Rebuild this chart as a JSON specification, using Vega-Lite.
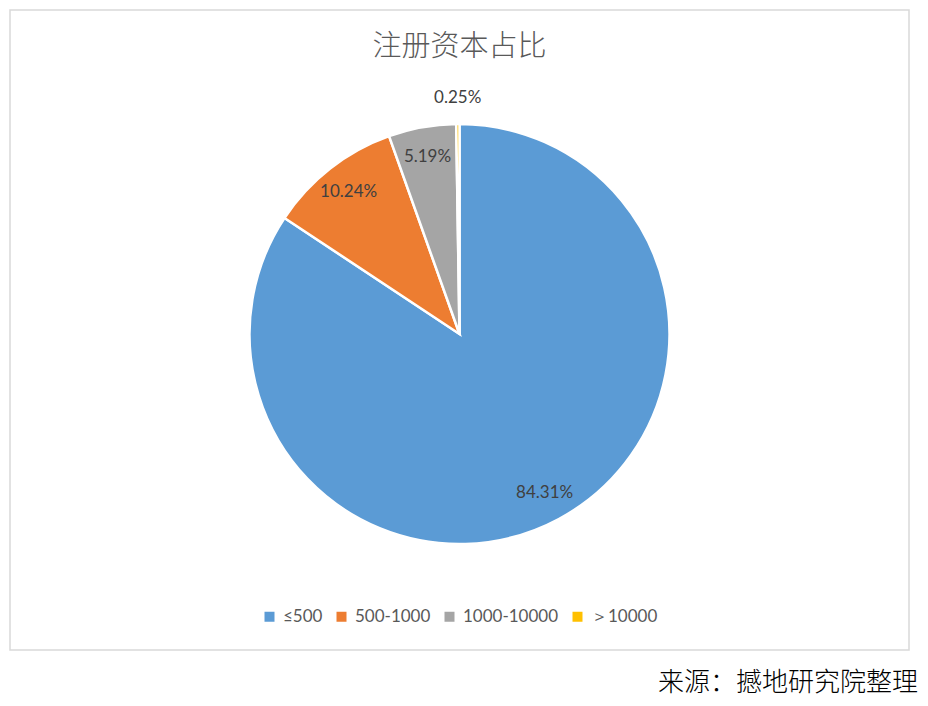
{
  "$schema": "https://vega.github.io/schema/vega-lite/v6.json",
  "width": 899,
  "height": 640,
  "autosize": "none",
  "padding": {"left": 10, "top": 10, "right": 19, "bottom": 56},
  "background": "white",
  "title": {
    "text": "注册资本占比",
    "font": "Noto Sans CJK SC",
    "fontSize": 29,
    "fontWeight": 300,
    "color": "#595959",
    "baseline": "middle",
    "anchor": "middle",
    "offset": -66
  },
  "config": {
    "view": {"stroke": "#d9d9d9", "strokeWidth": 1.5},
    "legend": {"layout": {"anchor": "middle"}}
  },
  "data": {
    "values": [
      {"range": "≤500", "pct": 84.31, "label": "84.31%"},
      {"range": "500-1000", "pct": 10.24, "label": "10.24%"},
      {"range": "1000-10000", "pct": 5.19, "label": "5.19%"},
      {"range": "＞10000", "pct": 0.25, "label": "0.25%"}
    ]
  },
  "encoding": {
    "theta": {"field": "pct", "type": "quantitative", "stack": true},
    "order": {"field": "pct", "type": "quantitative", "sort": "descending"}
  },
  "layer": [
    {
      "mark": {"type": "arc", "outerRadius": 210, "stroke": "white", "strokeWidth": 2.5, "yOffset": 4},
      "encoding": {
        "color": {
          "field": "range",
          "type": "nominal",
          "sort": null,
          "scale": {
            "domain": ["≤500", "500-1000", "1000-10000", "＞10000"],
            "range": ["#5B9BD5", "#ED7D31", "#A5A5A5", "#FFC000"]
          },
          "legend": {
            "orient": "bottom",
            "direction": "horizontal",
            "title": null,
            "offset": -42,
            "symbolType": "square",
            "symbolSize": 100,
            "symbolStrokeWidth": 0,
            "labelFont": "Lato",
            "labelFontSize": 17,
            "labelColor": "#595959",
            "labelOffset": 5,
            "columnSpacing": 8
          }
        }
      }
    },
    {
      "mark": {"type": "text", "radius": 180, "font": "Lato", "fontSize": 17, "color": "#404040", "yOffset": 4},
      "encoding": {
        "text": {"condition": {"test": "datum.pct >= 1", "field": "label"}, "value": ""}
      }
    },
    {
      "mark": {"type": "text", "radius": 236, "font": "Lato", "fontSize": 17, "color": "#404040", "yOffset": 4},
      "encoding": {
        "text": {"condition": {"test": "datum.pct < 1", "field": "label"}, "value": ""}
      }
    },
    {
      "data": {"values": [{"note": "来源：撼地研究院整理"}]},
      "mark": {
        "type": "text",
        "font": "Noto Sans CJK SC",
        "fontSize": 26,
        "fontWeight": 300,
        "color": "black",
        "align": "right",
        "baseline": "middle",
        "dx": 9,
        "dy": 33
      },
      "encoding": {
        "theta": null,
        "order": null,
        "x": {"value": "width"},
        "y": {"value": "height"},
        "text": {"field": "note"}
      }
    }
  ]
}
